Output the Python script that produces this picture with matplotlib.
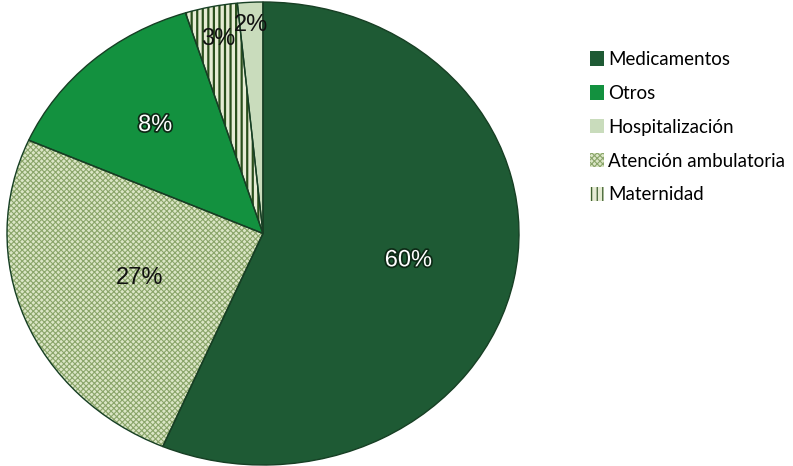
import matplotlib.pyplot as plt
import matplotlib.patches as mpatches
import matplotlib.patheffects as pe
import numpy as np

# slice shares as drawn (clockwise from 12 o'clock) and the printed labels
categorias = ["Medicamentos", "Atención ambulatoria", "Otros", "Maternidad", "Hospitalización"]
valores = [56.4, 25.2, 13.5, 3.3, 1.6]
etiquetas = ["60%", "27%", "8%", "3%", "2%"]
orden_leyenda = ["Medicamentos", "Otros", "Hospitalización", "Atención ambulatoria", "Maternidad"]

relleno = {"Medicamentos": "#1e5a34", "Atención ambulatoria": "#dbe6c6", "Otros": "#13913f",
           "Maternidad": "#e6ecd4", "Hospitalización": "#c9dcbc"}
trama = {"Medicamentos": None, "Atención ambulatoria": "xxxxxx", "Otros": None,
         "Maternidad": "|||", "Hospitalización": None}
color_trama = {"Medicamentos": "#1e5a34", "Atención ambulatoria": "#8aa56a", "Otros": "#13913f",
               "Maternidad": "#2a4f1c", "Hospitalización": "#c9dcbc"}
grosor_trama = {"Atención ambulatoria": 0.8, "Maternidad": 1.6}
radio_txt = [0.58, 0.52, 0.63, 0.86, 0.90]
color_txt = ["white", "#111111", "white", "#111111", "#111111"]

plt.rcParams['hatch.linewidth'] = 0.8

fig = plt.figure(figsize=(7.93, 4.66), dpi=100)
ax = fig.add_axes([7 / 793, 1 / 466, 512 / 793, 463 / 466])

wedges, _ = ax.pie(valores, startangle=90, counterclock=False, radius=1,
                   colors=[relleno[c] for c in categorias],
                   wedgeprops=dict(linewidth=0))
for w, c in zip(wedges, categorias):
    w.set_edgecolor(color_trama[c])
    if trama[c]:
        w.set_hatch(trama[c])
        if hasattr(w, "set_hatch_linewidth"):
            w.set_hatch_linewidth(grosor_trama[c])

# outlines on top
ax.pie(valores, startangle=90, counterclock=False, radius=1,
       colors=["none"] * len(valores),
       wedgeprops=dict(linewidth=1.0, edgecolor="#173f24", fill=False))

ax.set_aspect('auto')
ax.set_xlim(-1, 1)
ax.set_ylim(-1, 1)
ax.axis('off')

for w, lab, r, col in zip(wedges, etiquetas, radio_txt, color_txt):
    mid = np.deg2rad((w.theta1 + w.theta2) / 2)
    t = ax.text(r * np.cos(mid), r * np.sin(mid), lab, ha='center', va='center',
                fontsize=17, color=col, family='Liberation Sans')
    if col == "white":
        t.set_path_effects([pe.withStroke(linewidth=2.5, foreground="#0d2a16")])

handles = []
for c in orden_leyenda:
    p = mpatches.Patch(facecolor=relleno[c], edgecolor=color_trama[c],
                       hatch=trama[c], linewidth=0, label=c)
    if trama[c] and hasattr(p, "set_hatch_linewidth"):
        p.set_hatch_linewidth(grosor_trama[c])
    handles.append(p)
fig.legend(handles=handles, loc='upper left', bbox_to_anchor=(590 / 793, 1 - 51 / 466),
           frameon=False, handlelength=0.75, handleheight=0.8,
           handletextpad=0.2, labelspacing=0.9, borderaxespad=0, borderpad=0,
           prop={'family': 'Lato', 'size': 13.5})

fig.savefig("out.png", dpi=100)
